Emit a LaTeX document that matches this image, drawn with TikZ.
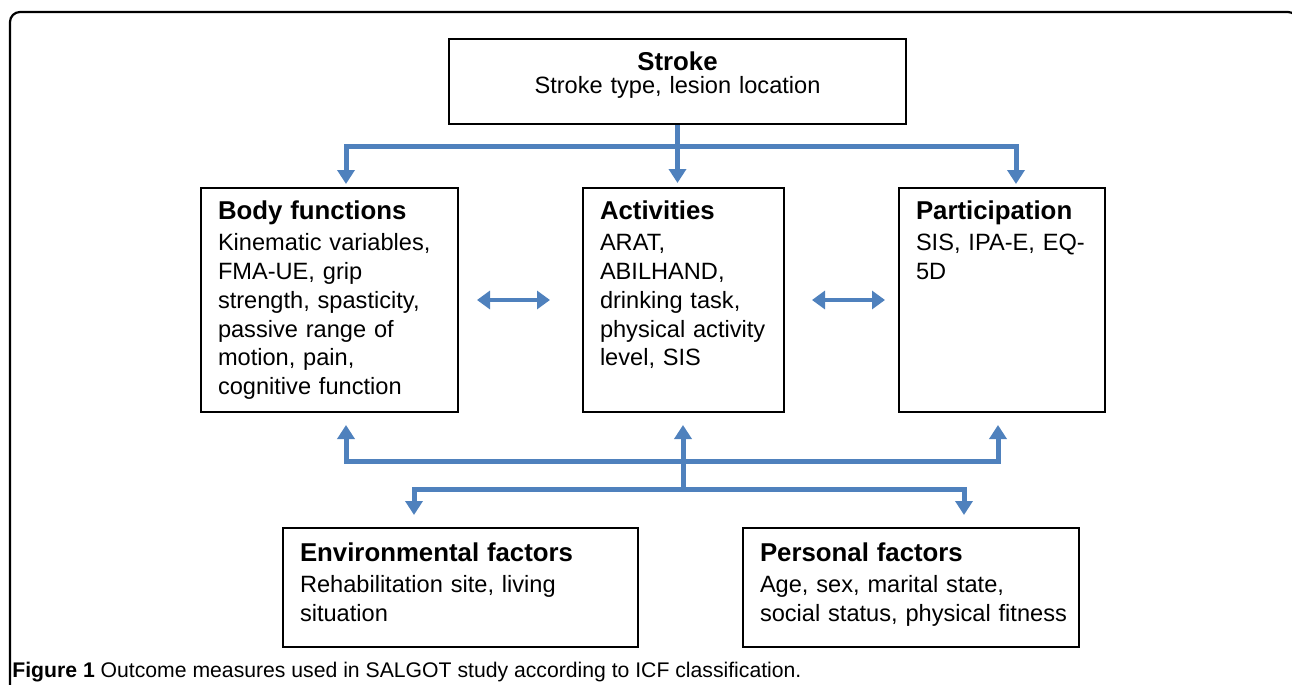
\documentclass[tikz,border=0pt]{standalone}
\usepackage{fontspec}
\setmainfont{Liberation Sans}
\usepackage{graphicx}
\usepackage{tikz}
\usetikzlibrary{arrows.meta}
\usetikzlibrary{calc}
\definecolor{icfblue}{HTML}{4F81BD}
\newcommand{\boxhead}[1]{{\fontsize{12.9}{14.5}\selectfont\bfseries #1}}

\begin{document}
\begin{tikzpicture}
  [
    x=0.5pt,y=-0.5pt,
    >={Triangle[width=8.5pt,length=7pt]},
    box/.style={
      draw,
      line width=1pt,
      inner xsep=8.5pt,
      inner ysep=0pt,
      align=left,
      anchor=north west,
      font=\fontsize{11.8}{14.5}\selectfont
    },
    tall/.style={
      box,
      text height=15.5pt,
      text depth=96.5pt
    },
    low/.style={
      box,
      text height=16.5pt,
      text depth=43pt
    },
    stem/.style={
      draw=icfblue,
      line width=2.5pt,
      ->
    },
    fork/.style={
      stem,
      <->
    },
    mutual/.style={
      draw=icfblue,
      line width=2pt,
      {Triangle[width=9pt,length=6.5pt]}-{Triangle[width=9pt,length=6.5pt]}
    }
  ]
  \useasboundingbox (0,0) rectangle (1292,685);
  % frame
  \draw [line width=1.1pt,rounded corners=5pt] (10,720) -- (10,12) -- (1298,12) -- (1298,720);
  % boxes
  \node [box,align=center,text width=211.5pt,text height=15.5pt,text depth=27pt] (stroke) at (448,38)
    {\boxhead{Stroke}\\[-3pt] Stroke type, lesion location};
  \node [tall,text width=111.5pt] (body) at (200,187)
    {\boxhead{Body functions}\\[1pt] \mbox{Kinematic variables,}\\ FMA-UE, grip\\ \mbox{strength, spasticity,}\\ passive range of\\ motion, pain,\\ \mbox{cognitive function}};
  \node [tall,text width=83.5pt] (act) at (582,187)
    {\boxhead{Activities}\\[1pt] ARAT,\\ ABILHAND,\\ \mbox{drinking task,}\\ \mbox{physical activity}\\ level, SIS};
  \node [tall,text width=86pt] (part) at (898,187)
    {\boxhead{Participation}\\[1pt] \mbox{SIS, IPA-E, EQ-}\\ 5D};
  \node [low,text width=160.5pt] (env) at (282,527)
    {\boxhead{Environmental factors}\\[1pt] Rehabilitation site, living\\ situation};
  \node [low,text width=151pt] (pers) at (742,527)
    {\boxhead{Personal factors}\\[1pt] Age, sex, marital state,\\ \mbox{social status, physical fitness}};
  % arrows from stroke
  \coordinate (split) at (676,146);
  \draw [stem,shorten >=2pt] (stroke.south) -- (stroke.south |- act.north);
  \draw [fork,shorten <=1.5pt,shorten >=1.5pt] ($(body.north)+(16.5,0)$) |- (split) -| ($(part.north)+(14,0)$);
  % arrows between components
  \draw [mutual,shorten <=9pt,shorten >=16pt] (body.east) -- (act.west);
  \draw [mutual,shorten <=13.5pt,shorten >=6.5pt] (act.east) -- (part.west);
  % arrows from contextual factors
  \coordinate (join) at (683,461);
  \coordinate (base) at (683,489);
  \draw [fork,shorten <=6pt,shorten >=6pt] ($(body.south)+(16.5,0)$) |- (join) -| ($(part.south)+(-4,0)$);
  \draw [stem,shorten >=6pt] (base) -- (base |- act.south);
  \draw [fork,shorten <=6pt,shorten >=6pt] ($(env.north)+(-46.5,0)$) |- (base) -| ($(pers.north)+(53,0)$);
  % caption
  \node [anchor=base west,inner sep=0pt] (caption) at (12,677)
    {\resizebox{394.5pt}{!}{\textbf{Figure 1} Outcome measures used in SALGOT study according to ICF classification.}};
\end{tikzpicture}
\end{document}
